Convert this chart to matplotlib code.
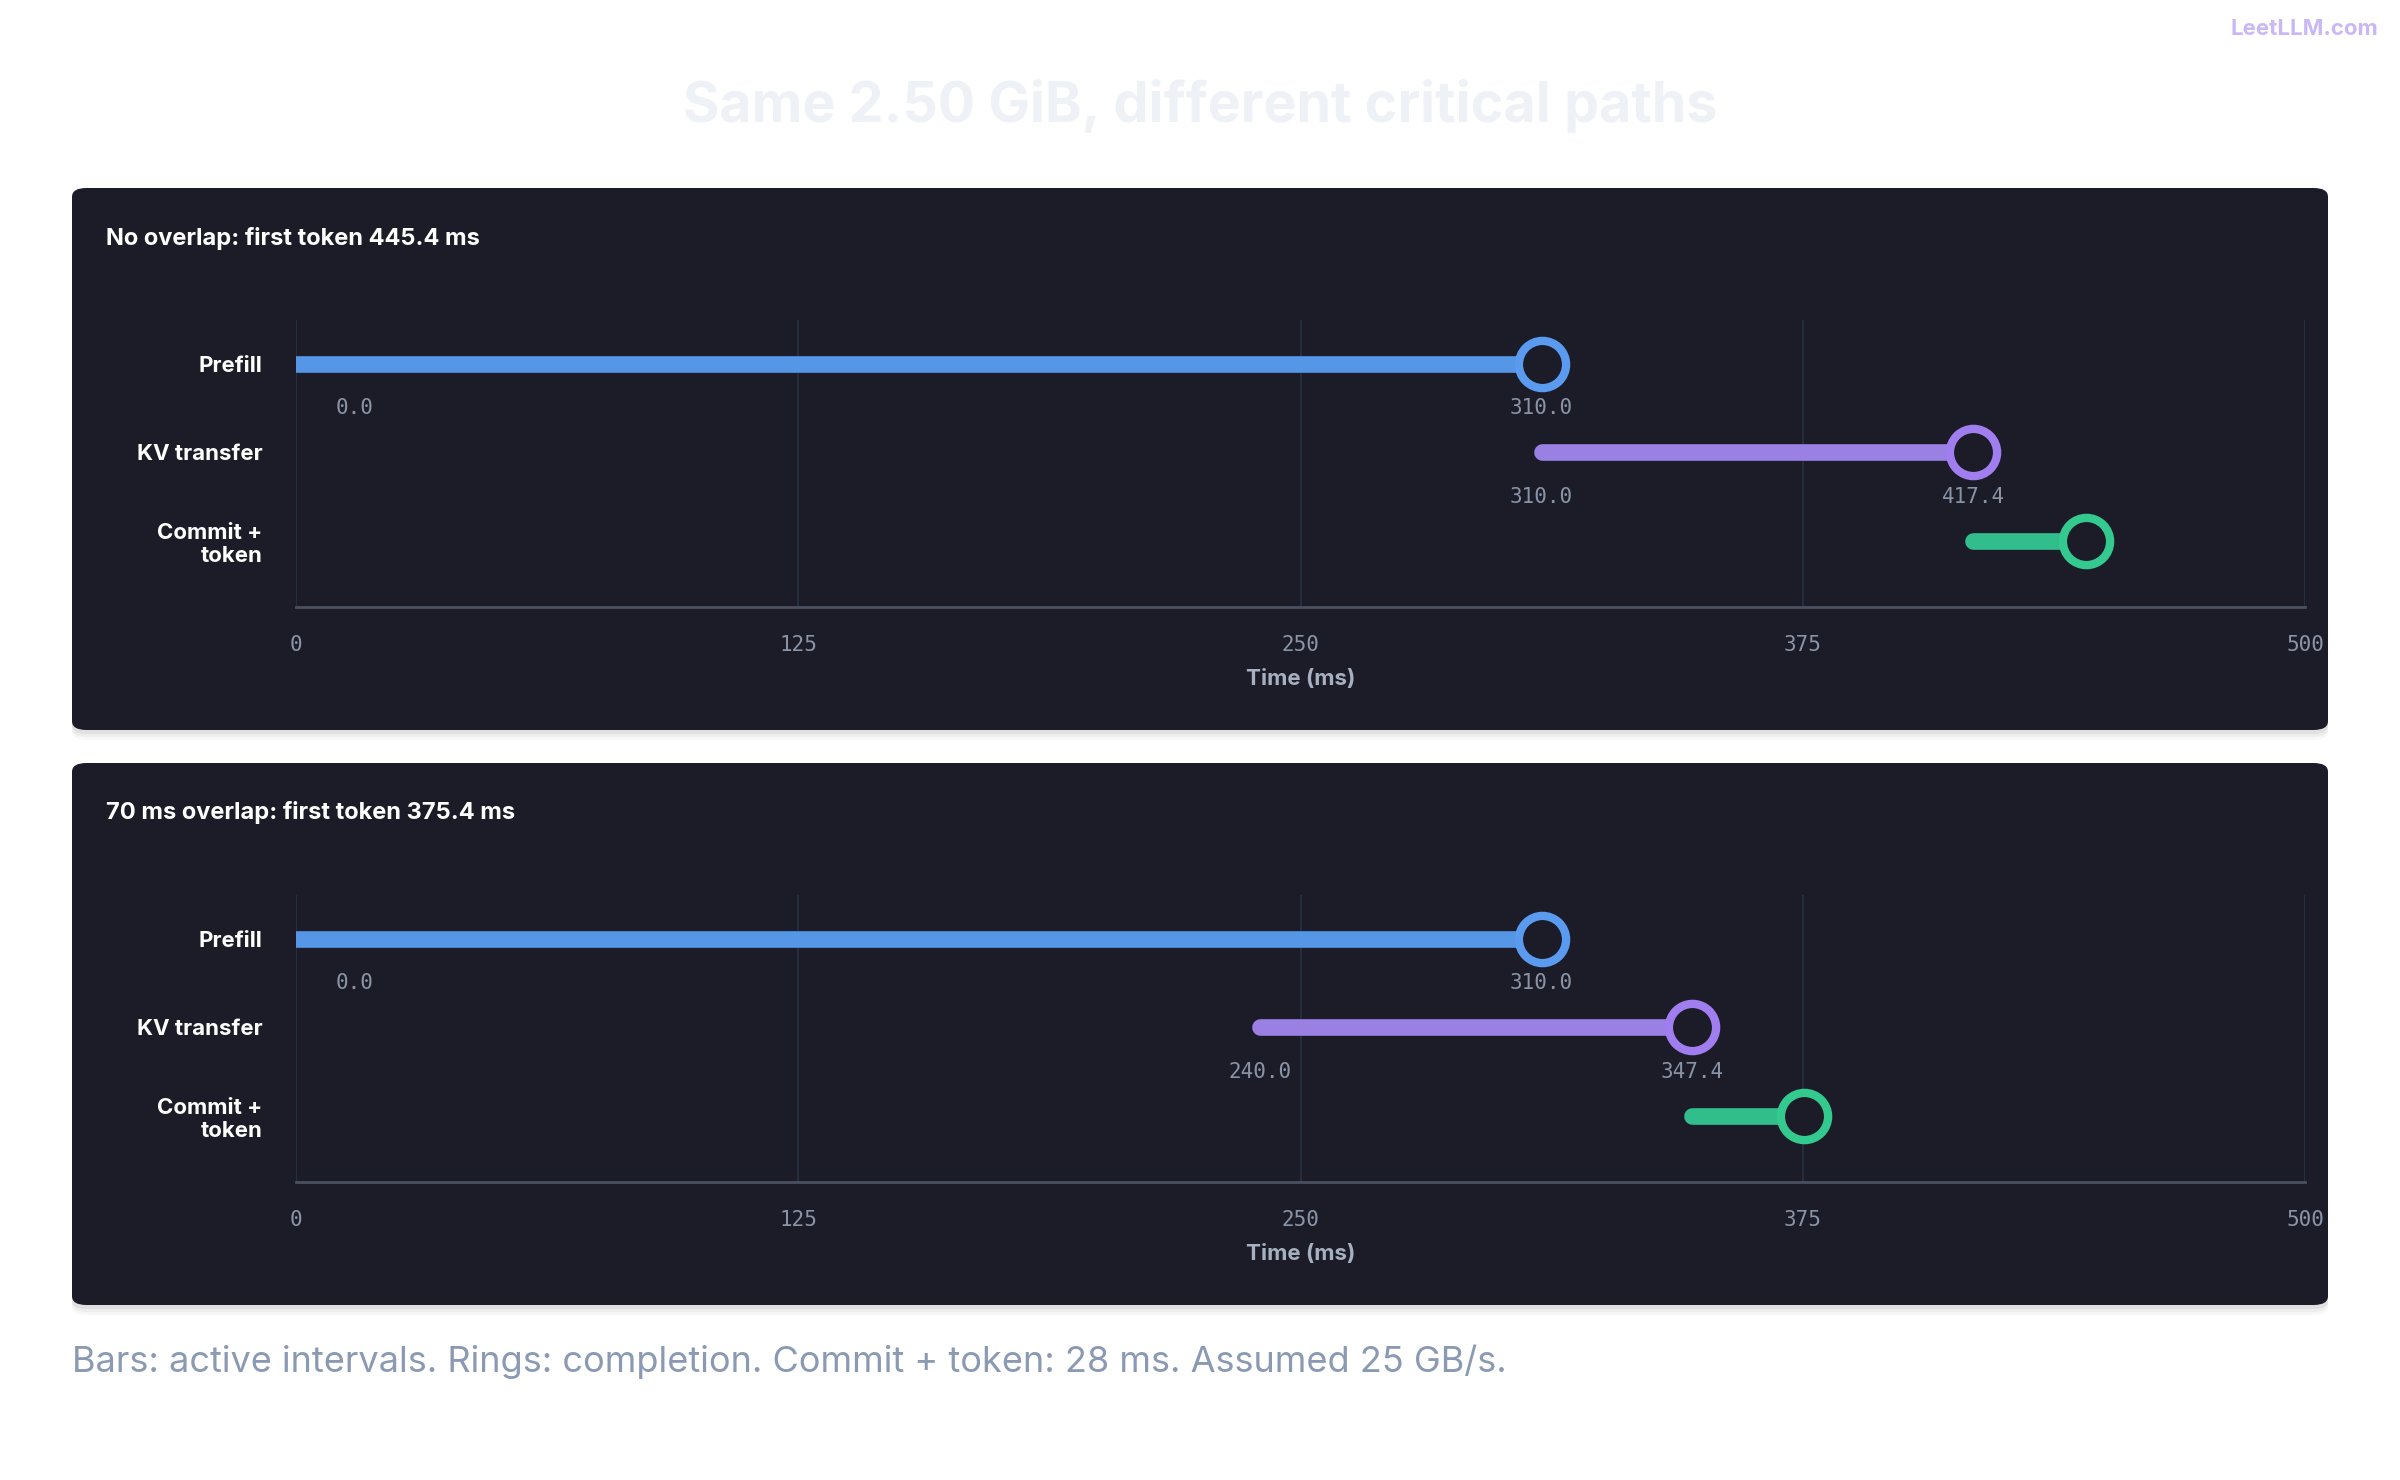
import matplotlib.pyplot as plt
from matplotlib.patches import FancyBboxPatch

# data
rows = ["Prefill", "KV transfer", "Commit +\ntoken"]
panel_titles = ["No overlap: first token 445.4 ms", "70 ms overlap: first token 375.4 ms"]
starts = [[0.0, 310.0, 417.4], [0.0, 240.0, 347.4]]
ends = [[310.0, 417.4, 445.4], [310.0, 347.4, 375.4]]
show_labels = [True, True, False]
xticks = [0, 125, 250, 375, 500]
colors = ["#5b9bef", "#a07ef0", "#34c98f"]
bar_colors = ["#5596e6", "#9a80e3", "#31bd8c"]

W, H = 2400, 1480
fig = plt.figure(figsize=(24, 14.8), dpi=100)
fig.patch.set_facecolor("white")

mono = ["DejaVu Sans Mono"]
sans = ["Inter", "DejaVu Sans"]

fig.text(1200 / W, 1 - 106 / H, "Same 2.50 GiB, different critical paths", ha="center", va="center",
         fontsize=40, fontweight="bold", color="#eef1f6", family=sans)
fig.text(2378 / W, 1 - 29 / H, "LeetLLM.com", ha="right", va="center", fontsize=16,
         fontweight="bold", color="#c9b8f5", family=sans)
fig.text(72 / W, 1 - 1362 / H, "Bars: active intervals. Rings: completion. Commit + token: 28 ms. Assumed 25 GB/s.",
         ha="left", va="center", fontsize=26, color="#8b9ab3", family=sans)

panel_tops = [188, 763]
for p in range(2):
    top = panel_tops[p]
    ph = 542
    for k, a in enumerate([0.05, 0.04, 0.03]):
        sh = FancyBboxPatch((72 / W, 1 - (top + ph + 4 + 3 * k) / H), 2256 / W, ph / H,
                            boxstyle="round,pad=0,rounding_size=0.006", transform=fig.transFigure,
                            facecolor="black", alpha=a, edgecolor="none", zorder=0)
        fig.patches.append(sh)
    box = FancyBboxPatch((72 / W, 1 - (top + ph) / H), 2256 / W, ph / H,
                         boxstyle="round,pad=0,rounding_size=0.006", transform=fig.transFigure,
                         facecolor="#1b1c28", edgecolor="none", zorder=1)
    fig.patches.append(box)
    fig.text(106 / W, 1 - (top + 50) / H, panel_titles[p], ha="left", va="center", fontsize=17,
             fontweight="bold", color="white", family=sans, zorder=3)

    ax_top = top + 132
    ax_bot = top + 419
    ax = fig.add_axes([296 / W, 1 - ax_bot / H, (2305 - 296) / W, (ax_bot - ax_top) / H])
    ax.set_facecolor("none")
    ax.set_zorder(2)
    ax.set_xlim(0, 500)
    ax.set_ylim(2.75, -0.5)
    for s in ["top", "right", "left"]:
        ax.spines[s].set_visible(False)
    ax.spines["bottom"].set_color("#4a5060")
    ax.spines["bottom"].set_linewidth(2)
    for t in xticks:
        ax.axvline(t, color="#263244", lw=1.2, zorder=0)
    ax.set_xticks(xticks)
    ax.set_xticklabels([str(t) for t in xticks], family=mono, fontsize=15, color="#8a94a6")
    ax.tick_params(axis="x", length=0, pad=20)
    ax.set_yticks(range(3))
    ax.set_yticklabels(rows, fontsize=16, fontweight="bold", color="white", family=sans)
    ax.tick_params(axis="y", length=0, pad=24)
    ax.set_xlabel("Time (ms)", fontsize=16, fontweight="bold", color="#a7b0c0", family=sans, labelpad=10)

    for i in range(3):
        s, e = starts[p][i], ends[p][i]
        ax.plot([s, e], [i, i], color=bar_colors[i], lw=12, solid_capstyle="round", zorder=3)
        ax.plot([e], [i], "o", ms=34, mfc="#1b1c28", mec=colors[i], mew=6, zorder=4, clip_on=False)
        if show_labels[i]:
            ax.text(max(s, 14.5), i + 0.5, f"{s:.1f}", ha="center", va="center", family=mono,
                    fontsize=15, color="#8a94a6")
            ax.text(e, i + 0.5, f"{e:.1f}", ha="center", va="center", family=mono,
                    fontsize=15, color="#8a94a6")

fig.savefig("out.png", dpi=100, facecolor="white")
